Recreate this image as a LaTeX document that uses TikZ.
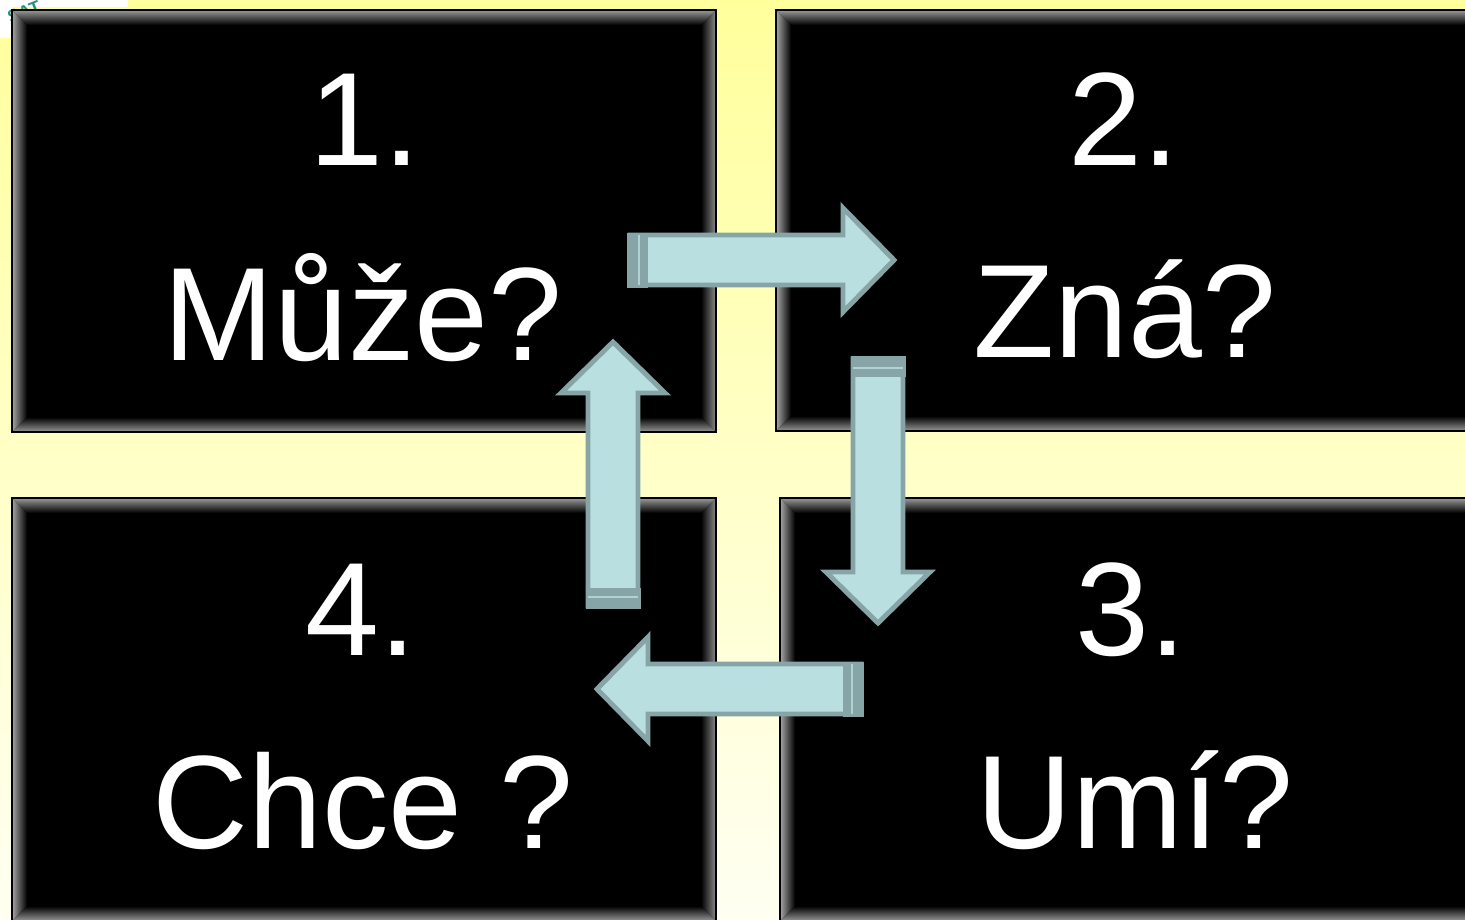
\documentclass[tikz,border=0pt]{standalone}
\usepackage{fontspec}
\setmainfont{Liberation Sans}
\usetikzlibrary{calc}

\definecolor{bgtop}{HTML}{FFFF9C}
\definecolor{bgmid}{HTML}{FDFCCC}
\definecolor{bgbot}{HTML}{FFFFF2}
\definecolor{arrfill}{HTML}{B9DFE1}
\definecolor{arredge}{HTML}{87A5A7}
\definecolor{logo}{HTML}{2E8F7C}

% bevelled black panel: name, x1, y1, x2, y2 (pixel units, y downwards)
\newcommand{\panel}[5]{%
  \fill[black] (#2,#3) rectangle (#4,#5);
  \shade[top color=black!40, bottom color=black]
    (#2,#3) -- (#4,#3) -- ($(#4,#3)+(-15,15)$) -- ($(#2,#3)+(15,15)$) -- cycle;
  \shade[left color=black!35, right color=black]
    (#2,#3) -- ($(#2,#3)+(15,15)$) -- ($(#2,#5)+(15,-15)$) -- (#2,#5) -- cycle;
  \shade[left color=black, right color=black!45]
    (#4,#3) -- ($(#4,#3)+(-15,15)$) -- ($(#4,#5)+(-15,-15)$) -- (#4,#5) -- cycle;
  \shade[top color=black, bottom color=black!40]
    (#2,#5) -- ($(#2,#5)+(15,-15)$) -- ($(#4,#5)+(-15,-15)$) -- (#4,#5) -- cycle;
  \draw[black, line width=.6pt] (#2,#3) rectangle (#4,#5);
  \coordinate (#1) at ($(#2,#3)!.5!(#4,#5)$);
}

% flat block arrow with a darker tail cap: tail point, angle
\newcommand{\blockarrow}[2]{%
  \begin{scope}[shift={(#1)}, rotate=#2]
    \filldraw[arrow] (3,-25) -- (216,-25) -- (216,-52) -- (267,0)
      -- (216,52) -- (216,25) -- (3,25) -- cycle;
    \fill[arredge] (0,-27.5) rectangle (21,27.5);
    \draw[arrfill!80!arredge, line width=.4pt] (12,-25) -- (12,25);
  \end{scope}}

\tikzset{
  arrow/.style={fill=arrfill, draw=arredge, line width=1.4pt, line join=miter},
  caption/.style={text=white, anchor=base, inner sep=0pt,
    font=\fontsize{37.8}{40}\selectfont},
}

\begin{document}
\begin{tikzpicture}[x=0.1mm, y=-0.1mm]
  \useasboundingbox (0,0) rectangle (1465,919);
  \clip (0,0) rectangle (1465,919);
  \shade[top color=bgtop, middle color=bgmid, bottom color=bgbot] (0,0) rectangle (1465,919);

  % corner of a logo
  \fill[white] (0,0) rectangle (128,7);
  \fill[white] (0,0) rectangle (11,38);
  \node[text=logo, rotate=22, inner sep=0pt, font=\fontsize{5}{5}\selectfont\bfseries] (logo) at (24,12) {SAT};

  % the four panels
  \panel{p1}{12}{10}{716}{432}
  \panel{p2}{776}{10}{1490}{431}
  \panel{p3}{780}{498}{1490}{921}
  \panel{p4}{12}{498}{716}{921}

  \node[caption] (n1) at (365,165) {1.};
  \node[caption] (q1) at (363,360) {Může?};
  \node[caption] (n2) at (1124,165) {2.};
  \node[caption] (q2) at (1125,357) {Zná?};
  \node[caption] (n3) at (1131,655) {3.};
  \node[caption] (q3) at (1135,848) {Umí?};
  \node[caption] (n4) at (361,655) {4.};
  \node[caption] (q4) at (363,848) {Chce ?};

  % the cycle 1 -> 2 -> 3 -> 4 -> 1
  \coordinate (t12) at (627,260);
  \coordinate (t23) at (878,356);
  \coordinate (t34) at (864,689);
  \coordinate (t41) at (613,609);
  \blockarrow{t12}{0}
  \blockarrow{t23}{-90}
  \blockarrow{t34}{180}
  \blockarrow{t41}{90}
\end{tikzpicture}
\end{document}
